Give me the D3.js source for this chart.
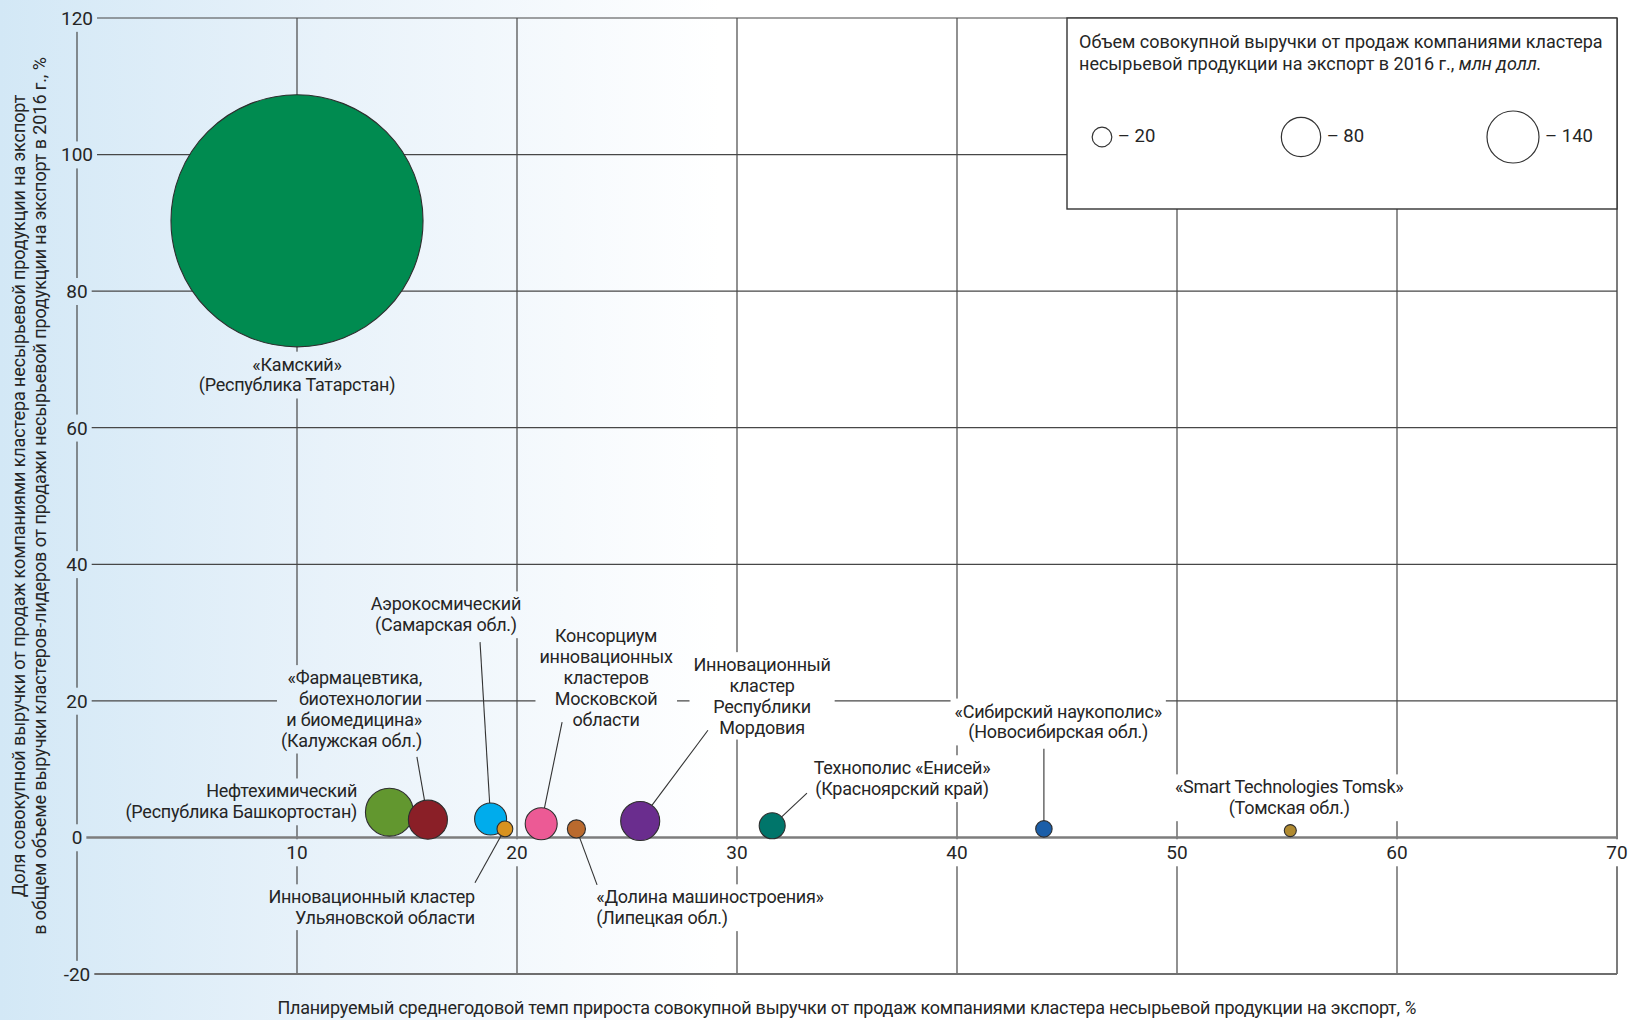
<!DOCTYPE html>
<html>
<head>
<meta charset="utf-8">
<script src="https://cdn.jsdelivr.net/npm/d3@7"></script>
<style>
  html, body { margin: 0; padding: 0; background: #fff; }
  svg text { font-family: Roboto, "Liberation Sans", sans-serif; fill: #252525; }
</style>
</head>
<body>
<svg id="chart" width="1630" height="1020"></svg>
<script>
// Data
var clusters = ["Камский", "Нефтехимический", "Калужская", "Самарская", "Ульяновская",
  "Московская", "Липецкая", "Мордовия", "Енисей", "Новосибирская", "Томская"];
var growth = [10, 14.2, 15.95, 18.8, 19.45, 21.1, 22.7, 25.6, 31.6, 43.95, 55.15];   // x, %
var share = [90.3, 3.7, 2.6, 2.7, 1.25, 2.0, 1.25, 2.4, 1.7, 1.25, 1.0];             // y, %
var revenue = [3290, 119, 79, 53, 13, 53, 17, 79, 35, 14, 7.5];                     // mln USD
var legendValues = [20, 80, 140];
var xTicks = [10, 20, 30, 40, 50, 60, 70];
var yTicks = [-20, 0, 20, 40, 60, 80, 100, 120];

var palette = ["#008b50", "#62972f", "#8a1f27", "#00acec", "#d8921f",
  "#ec5a95", "#ba6a2e", "#6a2d8e", "#00756a", "#1b5ea8", "#b08a30"];

// label text and where it sits (in data units); lead = start of the leader line
var labels = [
  {lines: ["«Камский»", "(Республика Татарстан)"], at: [10, 69.3], anchor: "middle"},
  {lines: ["Нефтехимический", "(Республика Башкортостан)"], at: [12.73, 6.8], anchor: "end"},
  {lines: ["«Фармацевтика,", "биотехнологии", "и биомедицина»", "(Калужская обл.)"], at: [15.68, 23.4], anchor: "end", lead: [15.45, 11.8]},
  {lines: ["Аэрокосмический", "(Самарская обл.)"], at: [16.77, 34.2], anchor: "middle", lead: [18.32, 28.6]},
  {lines: ["Инновационный кластер", "Ульяновской области"], at: [18.09, -8.7], anchor: "end", lead: [18.09, -6.65]},
  {lines: ["Консорциум", "инновационных", "кластеров", "Московской", "области"], at: [24.05, 29.5], anchor: "middle", lead: [22.05, 16.9]},
  {lines: ["«Долина машиностроения»", "(Липецкая обл.)"], at: [23.6, -8.7], anchor: "start", lead: [23.64, -6.95]},
  {lines: ["Инновационный", "кластер", "Республики", "Мордовия"], at: [31.14, 25.3], anchor: "middle", lead: [28.68, 15.7]},
  {lines: ["Технополис «Енисей»", "(Красноярский край)"], at: [37.5, 10.2], anchor: "middle", lead: [33.18, 6.5]},
  {lines: ["«Сибирский наукополис»", "(Новосибирская обл.)"], at: [44.6, 18.5], anchor: "middle", lead: [43.95, 13.0]},
  {lines: ["«Smart Technologies Tomsk»", "(Томская обл.)"], at: [55.1, 7.4], anchor: "middle"}
];

var width = 1630, height = 1020;
var lineH = 20.8;

var x = d3.scaleLinear().domain([0, 70]).range([77, 1617]);
var y = d3.scaleLinear().domain([-20, 120]).range([974, 18]);
var r = d3.scaleSqrt().domain([0, 140]).range([0, 26]);

var svg = d3.select("#chart");
var defs = svg.append("defs");

var grad = defs.append("linearGradient")
  .attr("id", "bg").attr("gradientUnits", "userSpaceOnUse")
  .attr("x1", 0).attr("y1", 0).attr("x2", 720).attr("y2", 0);
grad.append("stop").attr("offset", 0).attr("stop-color", "#d3e8f6");
grad.append("stop").attr("offset", 0.45).attr("stop-color", "#e8f2fa");
grad.append("stop").attr("offset", 1).attr("stop-color", "#ffffff");

svg.append("rect").attr("width", width).attr("height", height).attr("fill", "url(#bg)");

// mask so grid lines break around text
var mask = defs.append("mask").attr("id", "gridMask")
  .attr("maskUnits", "userSpaceOnUse")
  .attr("x", 0).attr("y", 0).attr("width", width).attr("height", height);
mask.append("rect").attr("width", width).attr("height", height).attr("fill", "#fff");

var grid = svg.append("g").attr("mask", "url(#gridMask)");

// vertical grid lines (x = 0 is the axis, x = 70 the border)
grid.selectAll("line.v")
  .data([0].concat(xTicks))
  .enter().append("line")
  .attr("x1", function(d) { return x(d); })
  .attr("x2", function(d) { return x(d); })
  .attr("y1", y(-20)).attr("y2", y(120))
  .attr("stroke", function(d) { return d === 70 ? "#6e6e6e" : "#474747"; })
  .attr("stroke-width", function(d) { return d === 70 ? 1.8 : 1.2; });

// horizontal grid lines
grid.selectAll("line.h")
  .data(yTicks)
  .enter().append("line")
  .attr("x1", x(0)).attr("x2", x(70))
  .attr("y1", function(d) { return y(d); })
  .attr("y2", function(d) { return y(d); })
  .attr("stroke", function(d) { return d === 0 ? "#7d7d7d" : (d === -20 ? "#6e6e6e" : "#474747"); })
  .attr("stroke-width", function(d) { return d === 0 ? 2.6 : (d === -20 ? 1.8 : 1.2); });

var maskTexts = [];

// tick labels
var xt = svg.append("g").selectAll("text")
  .data(xTicks).enter().append("text")
  .attr("x", function(d) { return x(d); })
  .attr("y", y(0) + 15)
  .attr("dy", "0.36em")
  .attr("text-anchor", "middle")
  .style("font-size", "19px")
  .text(function(d) { return d; });
xt.each(function() { maskTexts.push(this); });

var yt = svg.append("g").selectAll("text")
  .data(yTicks).enter().append("text")
  .attr("x", x(0))
  .attr("y", function(d) { return y(d); })
  .attr("dy", "0.36em")
  .attr("text-anchor", "middle")
  .style("font-size", "19px")
  .text(function(d) { return d; });
yt.each(function() { maskTexts.push(this); });

var idx = d3.range(clusters.length);

// leader lines
var leaders = svg.append("g");
labels.forEach(function(l, i) {
  if (!l.lead) return;
  var sx = x(l.lead[0]), sy = y(l.lead[1]);
  var cx = x(growth[i]), cy = y(share[i]), rr = r(revenue[i]);
  var dx = sx - cx, dy = sy - cy, len = Math.sqrt(dx * dx + dy * dy);
  leaders.append("line")
    .attr("x1", sx).attr("y1", sy)
    .attr("x2", cx + dx / len * rr).attr("y2", cy + dy / len * rr)
    .attr("stroke", "#333").attr("stroke-width", 1.1);
});

// bubbles
svg.append("g").selectAll("circle")
  .data(idx).enter().append("circle")
  .attr("cx", function(i) { return x(growth[i]); })
  .attr("cy", function(i) { return y(share[i]); })
  .attr("r", function(i) { return r(revenue[i]); })
  .attr("fill", function(i) { return palette[i]; })
  .attr("stroke", "#2e2e2e")
  .attr("stroke-width", 1.1);

// cluster labels
var lab = svg.append("g");
labels.forEach(function(l) {
  var t = lab.append("text")
    .attr("text-anchor", l.anchor)
    .style("font-size", "18px")
    .style("letter-spacing", "-0.25px");
  l.lines.forEach(function(s, k) {
    t.append("tspan")
      .attr("x", x(l.at[0]))
      .attr("y", y(l.at[1]) + k * lineH)
      .attr("dy", "0.36em")
      .text(s);
  });
  maskTexts.push(t.node());
});

// cut gaps in the grid behind texts
maskTexts.forEach(function(node) {
  var b = node.getBBox();
  mask.append("rect")
    .attr("x", b.x - 4).attr("y", b.y - 2)
    .attr("width", b.width + 8).attr("height", b.height + 4)
    .attr("fill", "#000");
});

// legend
var lg = svg.append("g");
lg.append("rect")
  .attr("x", 1067).attr("y", 18).attr("width", 550).attr("height", 191)
  .attr("fill", "#fff").attr("stroke", "#333").attr("stroke-width", 1.4);
var lt = lg.append("text").style("font-size", "18px");
lt.append("tspan").attr("x", 1079).attr("y", 42).attr("dy", "0.36em")
  .text("Объем совокупной выручки от продаж компаниями кластера");
lt.append("tspan").attr("x", 1079).attr("y", 64).attr("dy", "0.36em")
  .text("несырьевой продукции на экспорт в 2016 г., ");
lt.append("tspan").style("font-style", "italic").text("млн долл.");

var legendX = [1102, 1301, 1513];
legendValues.forEach(function(v, i) {
  lg.append("circle")
    .attr("cx", legendX[i]).attr("cy", 137)
    .attr("r", r(v))
    .attr("fill", "#fff").attr("stroke", "#333").attr("stroke-width", 1.2);
  lg.append("text")
    .attr("x", legendX[i] + r(v) + 6).attr("y", 135).attr("dy", "0.36em")
    .style("font-size", "18.5px")
    .text("– " + v);
});

// axis titles
var xTitle = svg.append("text")
  .attr("x", (x(0) + x(70)) / 2).attr("y", 1008).attr("dy", "0.36em")
  .attr("text-anchor", "middle").style("font-size", "18px")
  .style("letter-spacing", "-0.25px");
xTitle.append("tspan").text("Планируемый среднегодовой темп прироста совокупной выручки от продаж компаниями кластера несырьевой продукции на экспорт, ");
xTitle.append("tspan").style("font-style", "italic").text("%");

var yTitle = svg.append("text")
  .attr("transform", "translate(0," + (y(-20) + y(120)) / 2 + ") rotate(-90)")
  .attr("text-anchor", "middle").style("font-size", "18px")
  .style("letter-spacing", "-0.1px");
yTitle.append("tspan").attr("x", 0).attr("y", 19).attr("dy", "0.36em")
  .text("Доля совокупной выручки от продаж компаниями кластера несырьевой продукции на экспорт");
yTitle.append("tspan").attr("x", 0).attr("y", 40).attr("dy", "0.36em")
  .text("в общем объеме выручки кластеров-лидеров от продажи несырьевой продукции на экспорт в 2016 г., %");
</script>
</body>
</html>
